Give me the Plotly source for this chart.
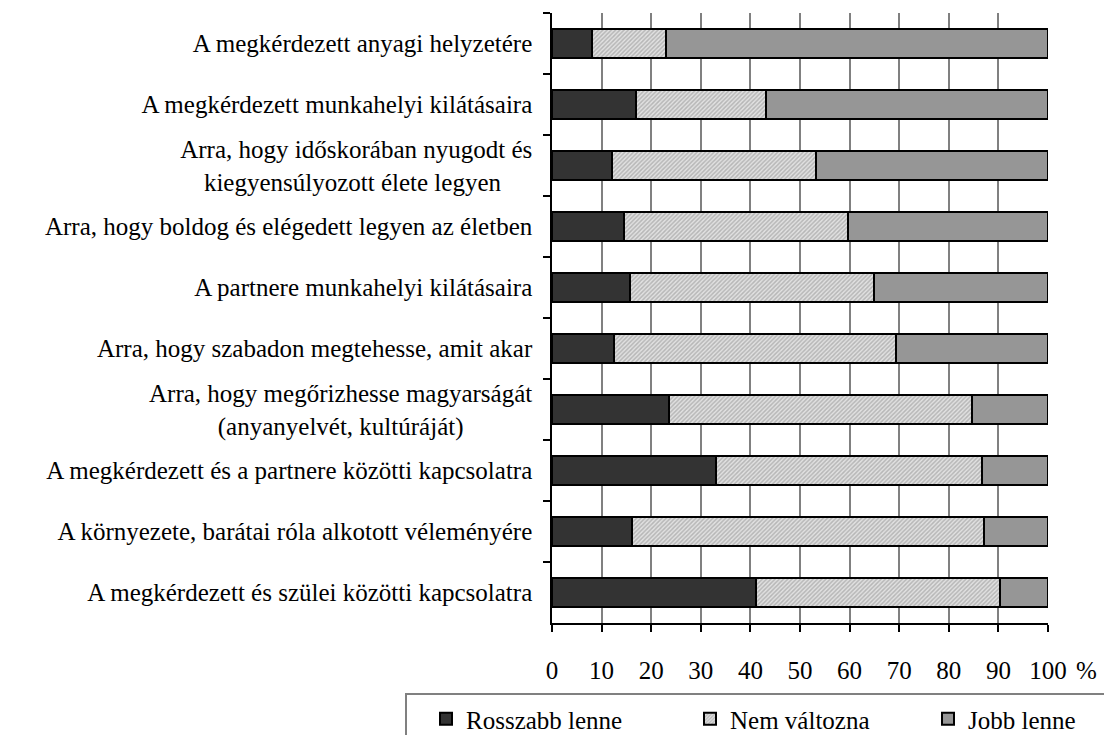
import plotly.graph_objects as go

# Category labels, top to bottom
NBSP = "\u00a0"
categories = [
    "A megkérdezett anyagi helyzetére",
    "A megkérdezett munkahelyi kilátásaira",
    "Arra, hogy időskorában nyugodt és<br>kiegyensúlyozott élete legyen" + NBSP * 5,
    "Arra, hogy boldog és elégedett legyen az életben",
    "A partnere munkahelyi kilátásaira",
    "Arra, hogy szabadon megtehesse, amit akar",
    "Arra, hogy megőrizhesse magyarságát<br>(anyanyelvét, kultúráját)" + NBSP * 11,
    "A megkérdezett és a partnere közötti kapcsolatra",
    "A környezete, barátai róla alkotott véleményére",
    "A megkérdezett és szülei közötti kapcsolatra",
]

# Shares in percent
worse = [8.0, 16.9, 12.1, 14.5, 15.7, 12.5, 23.5, 33.1, 16.1, 41.1]
same = [15.0, 26.2, 41.1, 45.1, 49.2, 56.9, 61.2, 53.6, 71.0, 49.2]
better = [77.0, 56.9, 46.8, 40.4, 35.1, 30.6, 15.3, 13.3, 12.9, 9.7]

x_ticks = [0, 10, 20, 30, 40, 50, 60, 70, 80, 90, 100]

FONT = "Liberation Serif, Times New Roman, serif"
FS = 25
# page body adds an 8px offset, so target positions are shifted back
OFF = 8
W, H = 1112, 735
L, T = 552 - OFF, 13 - OFF
R = W - (1048 - OFF)
B = H - (623 - OFF)
PW, PH = W - L - R, H - T - B


def px_x(px):
    return (px - OFF - L) / PW


def px_y(py):
    return (H - B - (py - OFF)) / PH


fig = go.Figure()

fig.add_trace(go.Bar(
    y=categories, x=worse, orientation="h", name="Rosszabb lenne",
    marker=dict(color="#333333", line=dict(color="black", width=2)),
    legend="legend",
))
fig.add_trace(go.Bar(
    y=categories, x=same, orientation="h", name="Nem változna",
    marker=dict(
        color="white",
        line=dict(color="black", width=2),
        pattern=dict(shape="/", fgcolor="#8a8a8a", bgcolor="#e2e2e2",
                     size=3, solidity=0.5),
    ),
    legend="legend2",
))
fig.add_trace(go.Bar(
    y=categories, x=better, orientation="h", name="Jobb lenne",
    marker=dict(color="#969696", line=dict(color="black", width=2)),
    legend="legend3",
))

legend_common = dict(
    orientation="h", yanchor="middle", xanchor="left",
    bgcolor="rgba(0,0,0,0)", borderwidth=0,
    font=dict(family=FONT, size=FS, color="black"),
)

fig.update_layout(
    width=W, height=H,
    barmode="stack",
    bargap=0.52,
    showlegend=True,
    plot_bgcolor="white",
    paper_bgcolor="white",
    margin=dict(l=L, r=R, t=T, b=B, autoexpand=False),
    font=dict(family=FONT, size=FS, color="black"),
    legend=dict(x=px_x(426), y=px_y(719), **legend_common),
    legend2=dict(x=px_x(690), y=px_y(719), **legend_common),
    legend3=dict(x=px_x(928), y=px_y(719), **legend_common),
    xaxis=dict(
        range=[0, 100],
        tickvals=x_ticks,
        showgrid=True, gridcolor="#808080", gridwidth=1.5,
        zeroline=False,
        showline=True, linecolor="black", linewidth=1.5,
        ticks="outside", ticklen=7, tickcolor="black", tickwidth=1.5,
        ticklabelstandoff=17,
        tickfont=dict(family=FONT, size=FS, color="black"),
    ),
    yaxis=dict(
        type="category",
        autorange="reversed",
        showgrid=False,
        showline=True, linecolor="black", linewidth=1.5,
        ticks="outside", ticklen=7, tickcolor="black", tickwidth=1.5,
        tickson="boundaries",
        ticklabelstandoff=13,
        tickfont=dict(family=FONT, size=FS, color="black"),
    ),
    shapes=[
        dict(type="rect", xref="paper", yref="paper",
             x0=px_x(406), x1=px_x(1140), y0=px_y(770), y1=px_y(694),
             line=dict(color="#808080", width=2), fillcolor="rgba(0,0,0,0)"),
    ],
    annotations=[
        dict(text="%", xref="paper", yref="paper",
             x=px_x(1086), y=px_y(670), xanchor="center", yanchor="middle",
             showarrow=False, font=dict(family=FONT, size=FS, color="black")),
    ],
)

fig.write_html("out.html")
